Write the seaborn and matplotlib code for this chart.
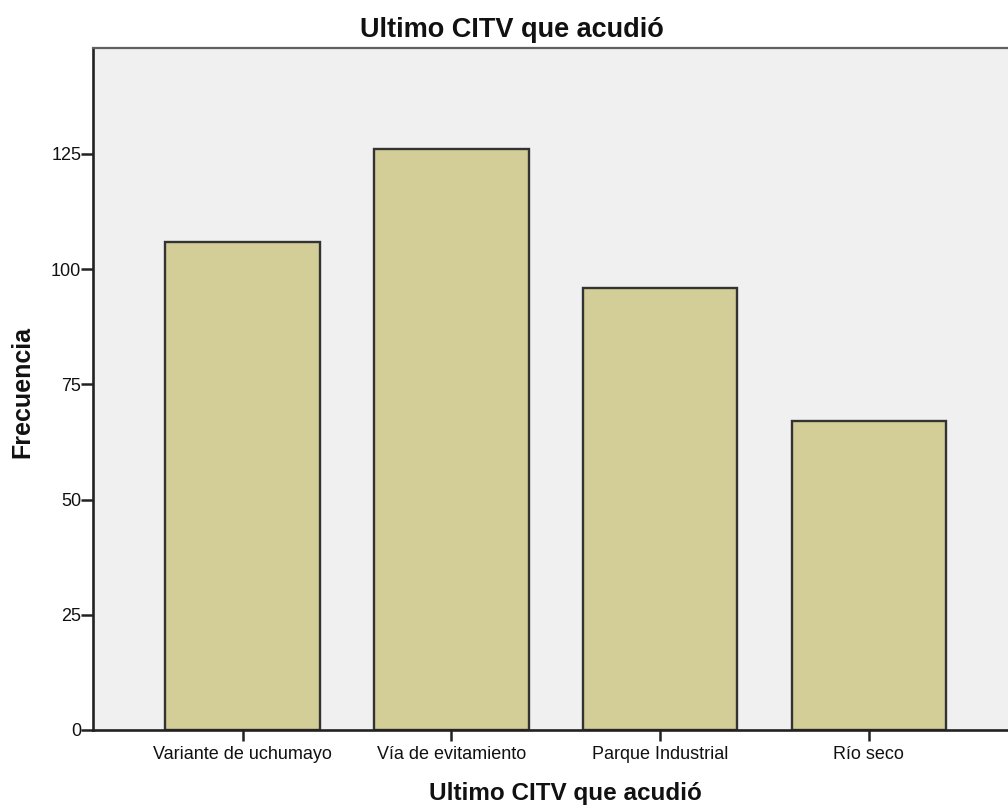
import matplotlib
matplotlib.use("Agg")
import matplotlib.pyplot as plt
import seaborn as sns
import pandas as pd

categories = ["Variante de uchumayo", "Vía de evitamiento", "Parque Industrial", "Río seco"]
frecuencia = [106, 126, 96, 67]
y_ticks = [0, 25, 50, 75, 100, 125]

df = pd.DataFrame({"cat": categories, "freq": frecuencia})

sns.set_theme(style="white")
plt.rcParams["font.family"] = ["Liberation Sans", "DejaVu Sans"]

W, H = 1008, 806
fig = plt.figure(figsize=(W / 100, H / 100), dpi=100)
ax_left, ax_bottom, ax_top = 93, 730, 48
ax = fig.add_axes([ax_left / W, (H - ax_bottom) / H, 1 - ax_left / W, (ax_bottom - ax_top) / H])
ax.set_facecolor("#f0f0f0")

sns.barplot(data=df, x="cat", y="freq", color="#d3ce97", saturation=1,
            edgecolor="#333333", linewidth=1.7, width=0.74, ax=ax)

ax.set_xlim(-0.716, 3.666)
ax.set_ylim(0, 148)
ax.set_yticks(y_ticks)
ax.set_yticklabels([str(v) for v in y_ticks], fontsize=13, color="#111111")
ax.set_xticks(range(len(categories)))
ax.set_xticklabels(categories, fontsize=13, color="#111111")

ax.tick_params(axis="y", direction="out", length=8.5, width=1.8, color="#222222", pad=0, left=True)
ax.tick_params(axis="x", direction="out", length=8, width=1.8, color="#222222", pad=3.5, bottom=True)

for side in ["left", "bottom"]:
    ax.spines[side].set_color("#222222")
    ax.spines[side].set_linewidth(1.9)
ax.spines["top"].set_color("#606060")
ax.spines["top"].set_linewidth(1.6)
ax.spines["right"].set_visible(False)

ax_w = W - ax_left
ax_h = ax_bottom - ax_top

# axis titles
ax.set_ylabel("Frecuencia", fontsize=18, fontweight="bold", color="#111111")
ax.yaxis.set_label_coords((34 - ax_left) / ax_w, (ax_bottom - 392) / ax_h)

ax.set_xlabel("Ultimo CITV que acudió", fontsize=17.5, fontweight="bold", color="#111111")
ax.xaxis.set_label_coords((565 - ax_left) / ax_w, (ax_bottom - 800) / ax_h)
ax.xaxis.label.set_verticalalignment("baseline")

# chart title
fig.text(511.5 / W, (H - 37) / H, "Ultimo CITV que acudió", fontsize=19.5,
         fontweight="bold", ha="center", va="baseline", color="#111111")

fig.savefig("out.png", dpi=100)
